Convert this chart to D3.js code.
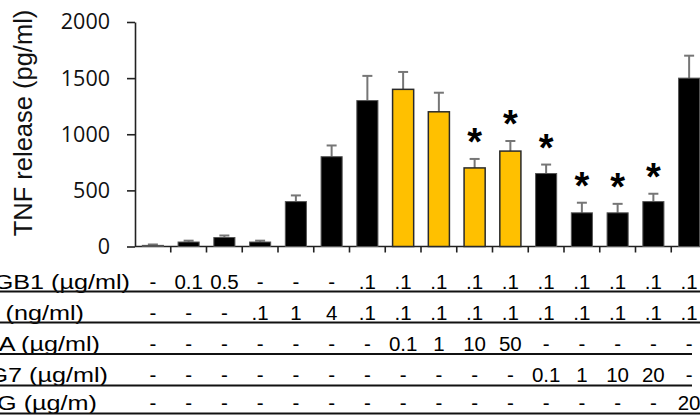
<!DOCTYPE html>
<html>
<head>
<meta charset="utf-8">
<script src="https://cdn.jsdelivr.net/npm/d3@7"></script>
<style>
  html, body { margin: 0; padding: 0; background: #fff; }
  svg { display: block; }
</style>
</head>
<body>
<svg id="chart" width="700" height="416"></svg>
<script>
// ---------- data ----------
const categories = ["c1","c2","c3","c4","c5","c6","c7","c8","c9","c10","c11","c12","c13","c14","c15","c16"];
const values     = [10, 40, 80, 40, 400, 800, 1300, 1400, 1200, 700, 850, 650, 300, 300, 400, 1500];
const errors     = [8, 12, 18, 12, 55, 100, 220, 155, 170, 80, 90, 80, 90, 80, 70, 200];
const barGroup   = ["k","k","k","k","k","k","k","y","y","y","y","k","k","k","k","k"];
const significant= [0,0,0,0,0,0,0,0,0,1,1,1,1,1,1,0];
const yTicks     = [0, 500, 1000, 1500, 2000];
const yTitle     = "TNF release (pg/ml)";

const rowLabels = ["GB1 (µg/ml)", "(ng/ml)", "A (µg/ml)", "G7 (µg/ml)", "G (µg/m)"];
const row1 = ["-","0.1","0.5","-","-","-",".1",".1",".1",".1",".1",".1",".1",".1",".1",".1"];
const row2 = ["-","-","-",".1","1","4",".1",".1",".1",".1",".1",".1",".1",".1",".1",".1"];
const row3 = ["-","-","-","-","-","-","-","0.1","1","10","50","-","-","-","-","-"];
const row4 = ["-","-","-","-","-","-","-","-","-","-","-","0.1","1","10","20","-"];
const row5 = ["-","-","-","-","-","-","-","-","-","-","-","-","-","-","-","20"];
const tableRows = [row1, row2, row3, row4, row5];

// ---------- layout ----------
const svg = d3.select("#chart");
const x0 = 135, x1 = 707, yBottom = 246.5, yTop = 22;
const x = d3.scaleBand().domain(categories).range([x0, x1]).paddingInner(0.41).paddingOuter(0.205);
const y = d3.scaleLinear().domain([0, 2000]).range([yBottom, yTop]);
const fillColor = {k: "#000000", y: "#FFC000"};
const strokeColor = {k: "#555555", y: "#2a2a2a"};
const font = "'Liberation Sans', Arial, Helvetica, sans-serif";

// y axis
const yAxis = d3.axisLeft(y).tickValues(yTicks).tickSize(8).tickSizeOuter(0).tickPadding(17).tickFormat(d3.format("d"));
const gy = svg.append("g").attr("transform", `translate(${x0},0)`).call(yAxis);
gy.select(".domain").attr("stroke", "#222").attr("stroke-width", 1.6);
gy.selectAll(".tick line").attr("stroke", "#222").attr("stroke-width", 1.6);
gy.selectAll(".tick text").attr("font-family", "'Open Sans', sans-serif").attr("font-size", 21.5).attr("fill", "#111");

// y title
svg.append("text")
  .attr("transform", `translate(32,123) rotate(-90)`)
  .attr("text-anchor", "middle")
  .attr("font-family", font).attr("font-size", 25.5).attr("fill", "#111")
  .text(yTitle);

// x axis baseline + ticks at band boundaries
svg.append("line").attr("x1", x0).attr("x2", 700).attr("y1", yBottom).attr("y2", yBottom)
  .attr("stroke", "#222").attr("stroke-width", 1.6);
const half = (x.step() - x.bandwidth()) / 2;
svg.append("g").selectAll("line").data(categories.slice(1)).join("line")
  .attr("x1", d => x(d) - half).attr("x2", d => x(d) - half)
  .attr("y1", yBottom).attr("y2", yBottom + 6)
  .attr("stroke", "#222").attr("stroke-width", 1.6);

// error bars (upper only)
const eb = svg.append("g").attr("stroke", "#767676").attr("stroke-width", 2);
categories.forEach((c, i) => {
  const cx = x(c) + x.bandwidth() / 2;
  eb.append("line").attr("x1", cx).attr("x2", cx).attr("y1", y(values[i])).attr("y2", y(values[i] + errors[i]));
  eb.append("line").attr("x1", cx - 5).attr("x2", cx + 5).attr("y1", y(values[i] + errors[i])).attr("y2", y(values[i] + errors[i]));
});

// bars
svg.append("g").selectAll("rect").data(categories).join("rect")
  .attr("x", d => x(d))
  .attr("y", (d, i) => y(values[i]))
  .attr("width", x.bandwidth())
  .attr("height", (d, i) => y(0) - y(values[i]))
  .attr("fill", (d, i) => fillColor[barGroup[i]])
  .attr("stroke", (d, i) => strokeColor[barGroup[i]])
  .attr("stroke-width", (d, i) => barGroup[i] === "y" ? 1.5 : 1);

// significance asterisks
svg.append("g").selectAll("text").data(categories.filter((c, i) => significant[i])).join("text")
  .attr("x", d => x(d) + x.bandwidth() / 2)
  .attr("y", d => { const i = categories.indexOf(d); return y(values[i] + errors[i]) - 4; })
  .attr("text-anchor", "middle")
  .attr("font-family", font).attr("font-weight", "bold").attr("font-size", 38).attr("fill", "#000")
  .text("*");

// ---------- condition table ----------
const baselines = [289, 320, 351, 382, 410];
const lineYs = [291.5, 322.5, 354, 385.5, 413.5];
const lineEnds = [700, 700, 692, 692, 700];
const labelEnds = [130, 84, 100, 108, 97];
const labelScale = 1.2;

baselines.forEach((by, r) => {
  svg.append("text")
    .attr("transform", `translate(${labelEnds[r]},${by}) scale(${labelScale},1)`)
    .attr("text-anchor", "end")
    .attr("font-family", font).attr("font-size", 21).attr("fill", "#000")
    .text(rowLabels[r]);
  svg.append("g").selectAll("text").data(categories).join("text")
    .attr("x", d => x(d) + x.bandwidth() / 2)
    .attr("y", by)
    .attr("text-anchor", "middle")
    .attr("font-family", font).attr("font-size", 20.5).attr("fill", "#000")
    .text((d, i) => tableRows[r][i]);
  svg.append("line").attr("x1", 0).attr("x2", lineEnds[r]).attr("y1", lineYs[r]).attr("y2", lineYs[r])
    .attr("stroke", "#111").attr("stroke-width", 1.8);
});
</script>
</body>
</html>
